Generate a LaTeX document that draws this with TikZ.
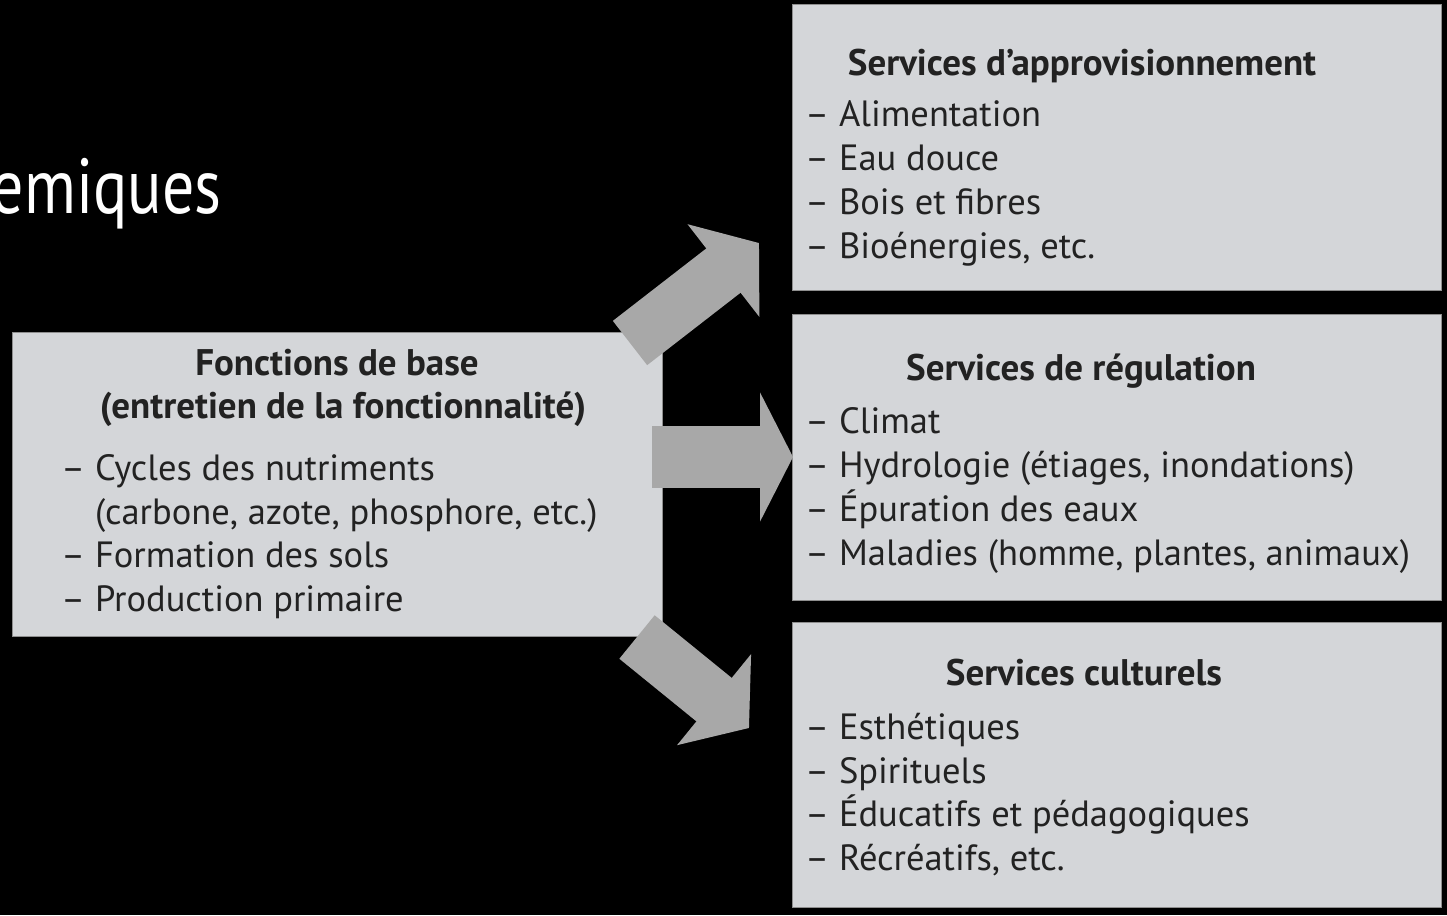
\documentclass[tikz,border=0pt]{standalone}
\usepackage{fontspec}
\setmainfont{PT Sans}
\newfontfamily\headfont[FakeStretch=0.82]{PT Sans}
\usetikzlibrary{arrows.meta}
\definecolor{boxfill}{HTML}{D4D6D9}
\definecolor{arrowfill}{HTML}{A8A8A8}
\definecolor{txt}{HTML}{222222}
\definecolor{boxedge}{HTML}{8E8E8E}
\newcommand{\itemfnt}{\fontsize{36.5bp}{44bp}\selectfont}
\newcommand{\ttlfnt}{\bfseries\fontsize{37bp}{44bp}\selectfont}
\begin{document}
\begin{tikzpicture}[x=1bp,y=-1bp,
  box/.style={fill=boxfill,draw=boxedge,line width=1bp,inner sep=0,anchor=north west},
  item/.style={anchor=base west,inner sep=0,font=\itemfnt,text=txt},
  ttl/.style={anchor=base,inner sep=0,font=\ttlfnt,text=txt},
  bigarrow/.style={draw=arrowfill,line width=#1},
]
\useasboundingbox (0,0) rectangle (1447,915);
\fill[black] (0,0) rectangle (1447,915);

% partial heading
\node[anchor=base east,inner sep=0,text=white,font=\headfont\fontsize{78bp}{80bp}\selectfont] (head) at (222,213) {emiques};

% boxes
\node[box,minimum width=650bp,minimum height=304bp] (base) at (12,332) {};
\node[box,minimum width=649bp,minimum height=286bp] (prov) at (792,4) {};
\node[box,minimum width=649bp,minimum height=286bp] (reg) at (792,314) {};
\node[box,minimum width=649bp,minimum height=285bp] (cult) at (792,622) {};

% left box text
\node[ttl] (b0) at (337,375) {Fonctions de base};
\node[ttl] (b1) at (343,418) {(entretien de la fonctionnalité)};
\node[item] (b2) at (61,480) {– Cycles des nutriments};
\node[item] (b3) at (61,524) {\phantom{– }(carbone, azote, phosphore, etc.)};
\node[item] (b4) at (61,567) {– Formation des sols};
\node[item] (b5) at (61,611) {– Production primaire};

% provisioning
\node[ttl] (p0) at (1082,75) {Services d’approvisionnement};
\node[item] (p1) at (805,126) {– Alimentation};
\node[item] (p2) at (805,170) {– Eau douce};
\node[item] (p3) at (805,214) {– Bois et fibres};
\node[item] (p4) at (805,258) {– Bioénergies, etc.};

% regulation
\node[ttl] (r0) at (1081,380) {Services de régulation};
\node[item] (r1) at (805,433) {– Climat};
\node[item] (r2) at (805,477) {– Hydrologie (étiages, inondations)};
\node[item] (r3) at (805,521) {– Épuration des eaux};
\node[item] (r4) at (805,565) {– Maladies (homme, plantes, animaux)};

% cultural
\node[ttl] (c0) at (1084,685) {Services culturels};
\node[item] (c1) at (805,739) {– Esthétiques};
\node[item] (c2) at (805,783) {– Spirituels};
\node[item] (c3) at (805,826) {– Éducatifs et pédagogiques};
\node[item] (c4) at (805,870) {– Récréatifs, etc.};

% arrows
\coordinate (t1) at (630,343);
\coordinate (h1) at (759,243);
\coordinate (t2) at (652,457);
\coordinate (h2) at (793,457);
\coordinate (t3) at (637,637);
\coordinate (h3) at (749,728);
\draw[bigarrow=56bp,-{Triangle[width=115bp,length=45bp]}] (t1) -- (h1);
\draw[bigarrow=62bp,-{Triangle[width=128bp,length=33bp]}] (t2) -- (h2);
\draw[bigarrow=56bp,-{Triangle[width=115bp,length=45bp]}] (t3) -- (h3);
\end{tikzpicture}
\end{document}
